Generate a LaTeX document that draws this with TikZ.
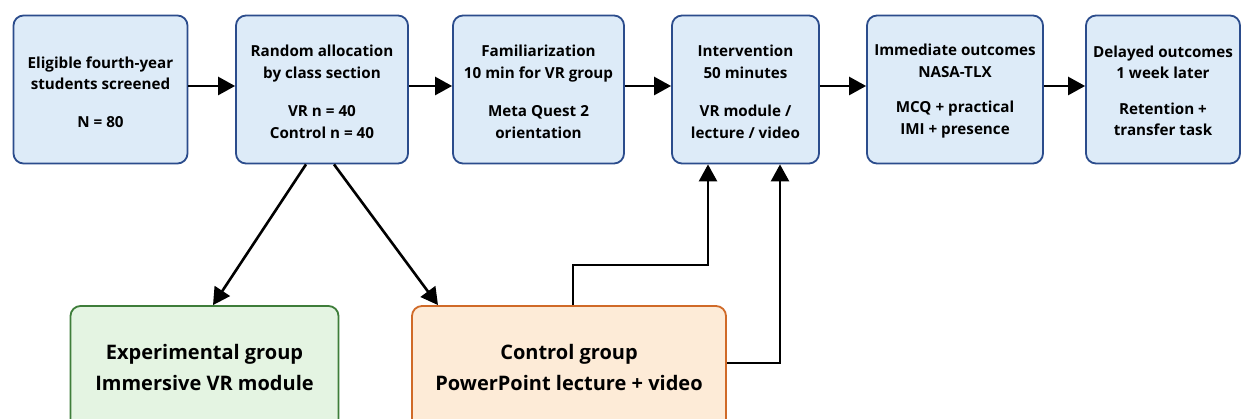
\documentclass[tikz,border=0pt]{standalone}
\usepackage{fontspec}
\setmainfont{Open Sans}
\usetikzlibrary{arrows.meta}
\definecolor{bfill}{HTML}{DDEBF8}
\definecolor{bdraw}{HTML}{2B4C8C}
\definecolor{gfill}{HTML}{E4F4E2}
\definecolor{gdraw}{HTML}{3E7D3A}
\definecolor{ofill}{HTML}{FDEBD7}
\definecolor{odraw}{HTML}{D06A28}
\tikzset{
  topbox/.style={draw=bdraw, fill=bfill, line width=1.8pt, rounded corners=10pt, minimum height=148pt},
  ttext/.style={align=center, inner sep=0pt, font=\fontsize{15.2}{21.5}\selectfont\bfseries},
  grnbox/.style={draw=gdraw, fill=gfill, line width=1.8pt, rounded corners=10pt},
  orgbox/.style={draw=odraw, fill=ofill, line width=1.8pt, rounded corners=10pt},
  btext/.style={font=\fontsize{20}{31}\selectfont\bfseries, align=center, inner sep=0pt},
  conn/.style={line width=2.6pt, -{Triangle[length=17pt,width=18pt]}},
}
\begin{document}
\begin{tikzpicture}[x=1pt,y=-1pt]
\useasboundingbox (0,0) rectangle (1242,419);
\clip (0,0) rectangle (1242,419);
\fill[white] (0,0) rectangle (1242,419);
% top row boxes
\node[topbox, minimum width=174pt] (b1) at (100.5,89.5) {};
\node[topbox, minimum width=172pt] (b2) at (322,89.5) {};
\node[topbox, minimum width=171pt] (b3) at (538.5,89.5) {};
\node[topbox, minimum width=147pt] (b4) at (745.5,89.5) {};
\node[topbox, minimum width=176pt] (b5) at (955,89.5) {};
\node[topbox, minimum width=154pt] (b6) at (1163,89.5) {};
% top row texts
\node[ttext] (t1) at (b1.center |- 0,92) {Eligible fourth-year\\students screened\\[16pt]N = 80};
\node[ttext] (t2) at (b2.center |- 0,92) {Random allocation\\by class section\\[17pt]VR n = 40\\Control n = 40};
\node[ttext] (t3) at (b3.center |- 0,92) {Familiarization\\10 min for VR group\\[17pt]Meta Quest 2\\orientation};
\node[ttext] (t4) at (b4.center |- 0,92) {Intervention\\50 minutes\\[17pt]VR module /\\lecture / video};
\node[ttext] (t5) at (b5.center |- 0,91) {Immediate outcomes\\NASA-TLX\\[14pt]MCQ + practical\\IMI + presence};
\node[ttext] (t6) at (b6.center |- 0,91) {Delayed outcomes\\1 week later\\[14pt]Retention +\\transfer task};
% bottom row
\node[grnbox, minimum width=268pt, minimum height=140pt] (g) at (204.5,376) {};
\node[orgbox, minimum width=314pt, minimum height=140pt] (o) at (569,376) {};
\node[btext] (gt) at (g.center |- 0,368) {Experimental group\\Immersive VR module};
\node[btext] (ot) at (o.center |- 0,368) {Control group\\PowerPoint lecture + video};
% horizontal arrows
\draw[conn] (b1.east |- 0,86) -- (b2.west |- 0,86);
\draw[conn] (b2.east |- 0,86) -- (b3.west |- 0,86);
\draw[conn] (b3.east |- 0,86) -- (b4.west |- 0,86);
\draw[conn] (b4.east |- 0,86) -- (b5.west |- 0,86);
\draw[conn] (b5.east |- 0,86) -- (b6.west |- 0,86);
% allocation arrows
\draw[conn] (b2.south -| 306,0) -- (g.north -| 213,0);
\draw[conn] (b2.south -| 334,0) -- (o.north -| 438,0);
% control to intervention
\draw[conn] (o.north -| 573,0) -- (573,265) -- (708,265) -- (b4.south -| 708,0);
\draw[conn] (o.east |- 0,363) -- (780,363) -- (b4.south -| 780,0);
\end{tikzpicture}
\end{document}
